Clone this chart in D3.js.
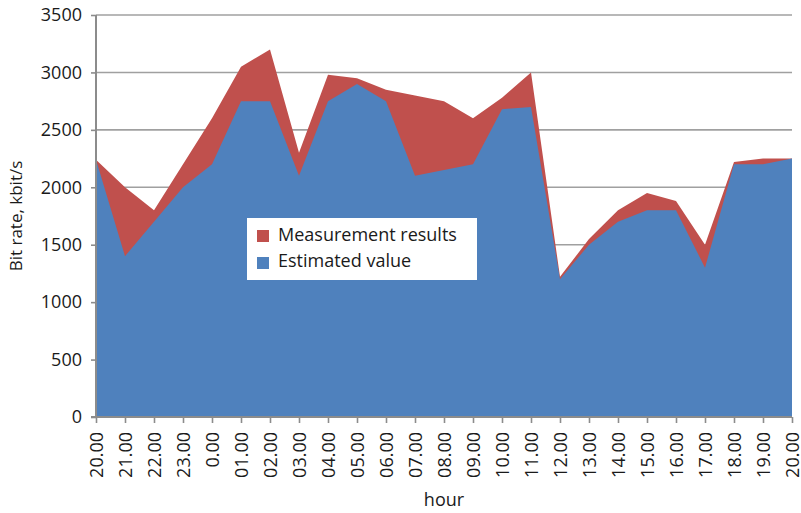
<!DOCTYPE html>
<html><head><meta charset="utf-8">
<script src="https://cdn.jsdelivr.net/npm/d3@7"></script>
<style>body{margin:0;background:#fff}svg{display:block}text{font-family:"Open Sans",sans-serif;fill:#1a1a1a}</style>
</head><body><svg id="c" width="801" height="513"></svg>
<script>
const hours = ["20.00","21.00","22.00","23.00","0.00","01.00","02.00","03.00","04.00","05.00","06.00","07.00","08.00","09.00","10.00","11.00","12.00","13.00","14.00","15.00","16.00","17.00","18.00","19.00","20.00"];
const measured = [2240,2000,1800,2200,2600,3050,3200,2300,2980,2950,2850,2800,2750,2600,2780,3000,1220,1550,1800,1950,1880,1500,2220,2250,2250];
const estimated = [2240,1400,1700,2000,2200,2750,2750,2100,2750,2900,2750,2100,2150,2200,2680,2700,1200,1500,1700,1800,1800,1300,2200,2200,2250];
const yTicks = [0,500,1000,1500,2000,2500,3000,3500];
const seriesNames = ["Measurement results","Estimated value"];
const colors = ["#C0504D","#4F81BD"];

const svg = d3.select("#c");
const L=96, R=792, T=15, B=417;
const x = d3.scalePoint().domain(d3.range(hours.length)).range([L,R]);
const y = d3.scaleLinear().domain([0,3500]).range([B,T]);

// gridlines
svg.append("g").selectAll("line").data(yTicks.slice(1)).join("line")
  .attr("x1",L).attr("x2",R).attr("y1",d=>y(d)).attr("y2",d=>y(d))
  .attr("stroke","#a0a0a0").attr("stroke-width",1.6);

const area = vals => d3.area().x((d,i)=>x(i)).y0(B).y1(d=>y(d))(vals);
svg.append("path").attr("d",area(measured)).attr("fill",colors[0]);
svg.append("path").attr("d",area(estimated)).attr("fill",colors[1]);

// y axis
const ya = svg.append("g").attr("transform",`translate(${L},0)`)
  .call(d3.axisLeft(y).tickValues(yTicks).tickSize(5).tickPadding(9).tickFormat(d3.format("d")));
ya.select(".domain").attr("stroke","#8c8c8c").attr("stroke-width",2).attr("d",`M-5,${B}H0V${T}`);
ya.selectAll(".tick line").attr("stroke","#8c8c8c").attr("stroke-width",1.6);
ya.selectAll("text").style("font-size","18px").attr("fill","#1a1a1a");

// x axis
const xa = svg.append("g").attr("transform",`translate(0,${B})`)
  .call(d3.axisBottom(x).tickSize(6).tickFormat(i=>hours[i]));
xa.select(".domain").attr("stroke","#8c8c8c").attr("stroke-width",2).attr("d",`M${L},0H${R}`);
xa.selectAll(".tick line").attr("stroke","#8c8c8c").attr("stroke-width",1.6);
xa.selectAll("text").style("font-size","18px").attr("fill","#1a1a1a")
  .attr("transform","rotate(-90)").attr("text-anchor","end").attr("dy","0.35em").attr("x",-15).attr("y",0);

svg.append("text").attr("x",444).attr("y",506).attr("text-anchor","middle").style("font-size","18px").text("hour");
svg.append("text").attr("transform","translate(22,216) rotate(-90)").attr("text-anchor","middle").style("font-size","17px").text("Bit rate, kbit/s");

// legend
const lg = svg.append("g").attr("transform","translate(247,218)");
lg.append("rect").attr("width",230).attr("height",62).attr("fill","#fff");
seriesNames.forEach((n,i)=>{
  lg.append("rect").attr("x",10).attr("y",12+i*27).attr("width",12).attr("height",12).attr("fill",colors[i]);
  lg.append("text").attr("x",31).attr("y",23+i*26).style("font-size","18px").text(n);
});
</script></body></html>
